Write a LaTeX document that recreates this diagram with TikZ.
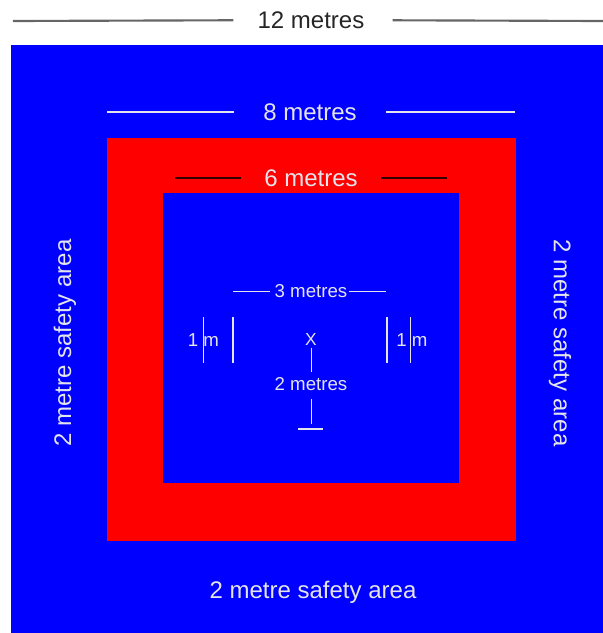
\documentclass[tikz,border=0pt]{standalone}
\usepackage{fontspec}
\setmainfont{Liberation Sans}
\usepackage[HTML]{xcolor}
\usetikzlibrary{positioning}
\definecolor{pitch}{HTML}{0000FF}
\definecolor{zone}{HTML}{FF0000}
\definecolor{chalk}{HTML}{E4E4EC}
\definecolor{rule}{HTML}{666666}

\begin{document}
\begin{tikzpicture}[x=0.75pt, y=-0.75pt,
  bigtext/.style={inner sep=0pt, text=chalk, font=\fontsize{18}{21}\selectfont},
  midtext/.style={inner sep=0pt, text=chalk, font=\fontsize{14}{16}\selectfont},
  dimline/.style={chalk, line width=1pt},
  thinline/.style={chalk, line width=0.7pt},
  bar/.style={chalk, line width=2.2pt}]

\useasboundingbox (0,0) rectangle (603,633);
\fill[pitch] (11,45) rectangle (603,633);
\fill[zone] (107,138) rectangle (516,541);
\fill[pitch] (163,193) rectangle (459,483);

\coordinate (TL) at (13,21);
\coordinate (TR) at (603,21);
\coordinate (EL) at (107,112);
\coordinate (ER) at (515,112);
\coordinate (SL) at (175,178);
\coordinate (SR) at (447,178);
\coordinate (HL) at (233,291);
\coordinate (HR) at (386,291);
\coordinate (M) at (311,429);

\node[bigtext, text=black!85] (twelve) at (311,20) {12 metres};
\node[bigtext] (eight) at (310,112) {8 metres};
\node[bigtext] (six) at (311,178) {6 metres};
\node[midtext] (three) at (311,291) {3 metres};
\node[midtext, font=\fontsize{13}{15}\selectfont] (cross) at (311,340) {X};
\node[midtext] (two) at (311,384) {2 metres};

\draw[rule, line width=1.6pt, shorten >=18pt] (TL) -- (twelve);
\draw[rule, line width=1.6pt, shorten >=21pt] (TR) -- (twelve);
\draw[dimline, shorten >=22pt] (EL) -- (eight);
\draw[dimline, shorten >=22pt] (ER) -- (eight);
\draw[black!80!zone, line width=1.2pt, shorten >=17pt] (SL) -- (six);
\draw[black!80!zone, line width=1.2pt, shorten >=17pt] (SR) -- (six);
\draw[thinline, shorten >=3pt] (HL) -- (three);
\draw[thinline, shorten >=1pt] (HR) -- (three);
\draw[thinline, shorten <=1pt, shorten >=4pt] (cross.south) -- (two);
\draw[thinline, shorten <=6pt, shorten >=4pt] (two) -- (M);
\draw[bar] (298,429) -- (323,429);

\draw[bar] (233,317) -- (233,363);
\draw[bar] (387,317) -- (387,363);
\draw[thinline] (203,317) -- (203,363);
\draw[thinline] (410,317) -- (410,363);
\node[midtext] (oneL) at (203.5,340) {1 m};
\node[midtext] (oneR) at (412,340) {1 m};

\node[bigtext, rotate=90] (left) at (65,343) {2 metre safety area};
\node[bigtext, rotate=-90] (right) at (560,343) {2 metre safety area};
\node[bigtext] (bottom) at (313,592) {2 metre safety area};
\end{tikzpicture}
\end{document}
